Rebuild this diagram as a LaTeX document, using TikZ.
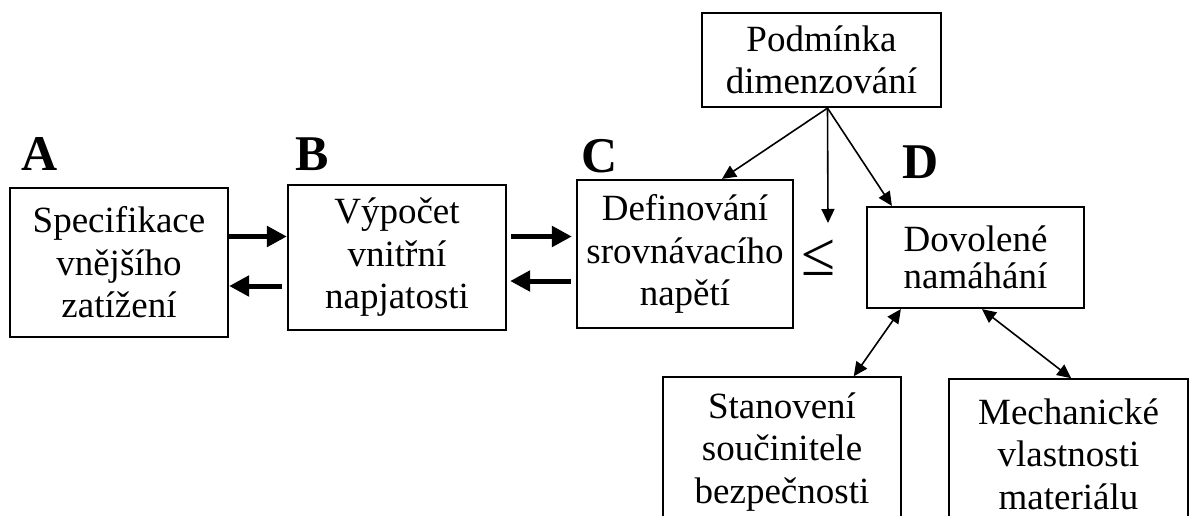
\documentclass[tikz,border=0pt]{standalone}
\usepackage{fontspec}
\setmainfont{Liberation Serif}
\usetikzlibrary{arrows.meta}
\begin{document}
\begin{tikzpicture}[x=1pt,y=-1pt,
  blk/.style={draw, line width=2.2pt, align=center, inner sep=0pt,
    font=\fontsize{37}{42.5}\selectfont},
  lowblk/.style={blk, line width=1.5pt},
  letter/.style={font=\fontsize{50}{50}\selectfont\bfseries, inner sep=0pt, anchor=base west},
  fat/.style={line width=5pt, -{Triangle[length=20pt,width=20pt]}},
  thinarr/.style={line width=1.6pt, -{Triangle[length=14pt,width=13pt]}},
  botharr/.style={line width=1.6pt, {Triangle[length=14pt,width=13pt]}-{Triangle[length=14pt,width=13pt]}}]

\clip (0,0) rectangle (1190,515);

% main chain of blocks
\node[blk, minimum width=218pt, minimum height=149pt] (A) at (119,262.5) {Specifikace\\vnějšího\\zatížení};
\node[blk, minimum width=218pt, minimum height=145pt] (B) at (397,257.5) {Výpočet\\vnitřní\\napjatosti};
\node[blk, minimum width=216pt, minimum height=148pt] (C) at (685,254) {Definování\\srovnávacího\\napětí};
\node[blk, minimum width=239pt, minimum height=94pt] (P) at (821.5,60) {Podmínka\\dimenzování};
\node[blk, minimum width=217pt, minimum height=101pt, font=\fontsize{37}{37}\selectfont] (D) at (975.5,257.5) {Dovolené\\namáhání};
\node[lowblk, minimum width=238pt, minimum height=150pt] (S) at (782,452) {Stanovení\\součinitele\\bezpečnosti};
\node[lowblk, minimum width=239pt, minimum height=150pt] (M) at (1068.5,454) {Mechanické\\vlastnosti\\materiálu};

% block letters
\node[letter] (la) at (21,170) {A};
\node[letter] (lb) at (295,170) {B};
\node[letter] (lc) at (581,172) {C};
\node[letter] (ld) at (902,178) {D};

% comparison sign
\node[inner sep=0pt, font=\fontsize{62}{62}\selectfont] (leq) at (818.5,257.5) {≤};

% horizontal flow between A, B and C
\coordinate (r1) at (0,236.5);
\coordinate (r2) at (0,286);
\coordinate (r3) at (0,281);
\draw[fat] (A.east |- r1) -- (B.west |- r1);
\draw[fat, shorten <=5pt] (B.west |- r2) -- (A.east |- r2);
\draw[fat, shorten <=4pt, shorten >=4pt] (B.east |- r1) -- (C.west |- r1);
\draw[fat, shorten <=5pt, shorten >=3pt] (C.west |- r3) -- (B.east |- r3);

% from the design condition
\coordinate (src) at ([xshift=6pt]P.south);
\coordinate (down) at (828,223);
\draw[thinarr] (src) -- ([xshift=37pt]C.north);
\draw[thinarr] (src) -- (down);
\draw[thinarr] (src) -- ([xshift=26pt]D.north west);

% allowable stress and its inputs
\draw[botharr] ([xshift=35pt]D.south west) -- ([xshift=-48pt]S.north east);
\draw[botharr] ([xshift=116pt]D.south west) -- ([xshift=123pt]M.north west);
\end{tikzpicture}
\end{document}
